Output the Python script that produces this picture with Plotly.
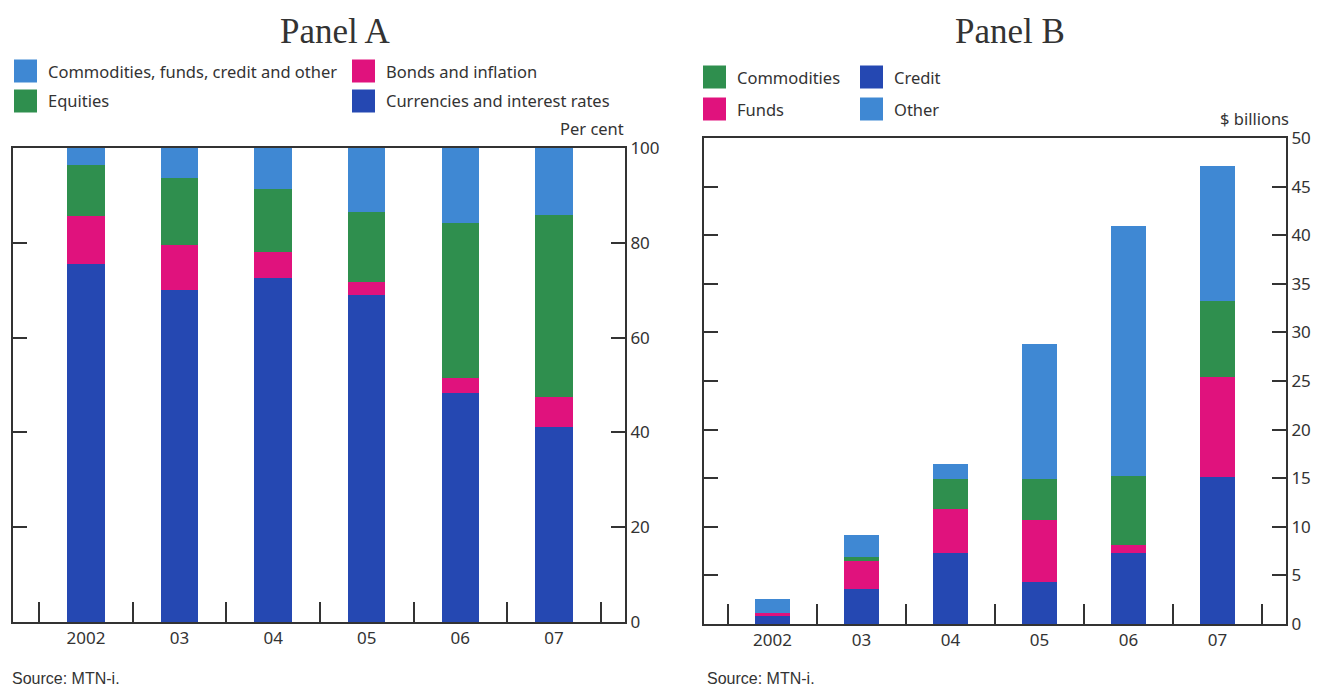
import plotly.graph_objects as go

W, H = 1317, 689

years = ["2002", "03", "04", "05", "06", "07"]

# Panel A (per cent of total)
a_currencies = [75.5, 70.0, 72.6, 69.0, 48.3, 41.1]
a_bonds = [10.1, 9.5, 5.4, 2.7, 3.2, 6.4]
a_equities = [10.8, 14.2, 13.3, 14.8, 32.6, 38.3]
a_other = [3.6, 6.3, 8.7, 13.5, 15.9, 14.2]

# Panel B ($ billions)
b_credit = [0.9, 3.65, 7.3, 4.35, 7.3, 15.1]
b_funds = [0.2, 2.8, 4.5, 6.35, 0.8, 10.3]
b_commodities = [0.0, 0.45, 3.1, 4.2, 7.1, 7.8]
b_other = [1.45, 2.3, 1.6, 13.9, 25.7, 13.9]

a_yticks = [0, 20, 40, 60, 80, 100]
b_yticks = [0, 5, 10, 15, 20, 25, 30, 35, 40, 45, 50]

BLUE = "#2548b2"
LBLUE = "#3f88d3"
GREEN = "#2f8f4e"
MAGENTA = "#e0127d"
INK = "#333333"
SANS = "Noto Sans, Open Sans, sans-serif"


def px_x(p):
    return p / W


def px_y(p):
    return 1 - p / H


fig = go.Figure()

for vals, col, name in [(a_currencies, BLUE, "Currencies and interest rates"),
                        (a_bonds, MAGENTA, "Bonds and inflation"),
                        (a_equities, GREEN, "Equities"),
                        (a_other, LBLUE, "Commodities, funds, credit and other")]:
    fig.add_trace(go.Bar(x=years, y=vals, name=name, marker=dict(color=col, line=dict(width=0)),
                         width=0.4, xaxis="x", yaxis="y", showlegend=False))

for vals, col, name in [(b_credit, BLUE, "Credit"),
                        (b_funds, MAGENTA, "Funds"),
                        (b_commodities, GREEN, "Commodities"),
                        (b_other, LBLUE, "Other")]:
    fig.add_trace(go.Bar(x=years, y=vals, name=name, marker=dict(color=col, line=dict(width=0)),
                         width=0.4, xaxis="x2", yaxis="y2", showlegend=False))

xcommon = dict(type="category", showline=True, linecolor=INK, linewidth=2, mirror=True,
               ticks="inside", tickson="boundaries", ticklen=20, tickwidth=2, tickcolor=INK,
               showgrid=False, zeroline=False, tickfont=dict(family=SANS, size=17, color=INK),
               fixedrange=True)
ycommon = dict(side="right", showline=True, linecolor=INK, linewidth=2, mirror="ticks",
               ticks="inside", ticklen=14, tickwidth=2, tickcolor=INK, showgrid=False,
               zeroline=False, tickfont=dict(family=SANS, size=17, color=INK), fixedrange=True)

fig.update_layout(
    width=W, height=H,
    margin=dict(l=0, r=0, t=0, b=0, autoexpand=False),
    paper_bgcolor="white", plot_bgcolor="white",
    barmode="stack", bargap=0.6,
    showlegend=False,
    xaxis=dict(xcommon, domain=[px_x(13), px_x(625)], range=[-0.78, 5.76], anchor="y"),
    yaxis=dict(ycommon, domain=[px_y(622), px_y(148)], range=[0, 100], tickvals=a_yticks, anchor="x"),
    xaxis2=dict(xcommon, domain=[px_x(704), px_x(1286)], range=[-0.77, 5.77], anchor="y2"),
    yaxis2=dict(ycommon, domain=[px_y(624), px_y(138)], range=[0, 50], tickvals=b_yticks, anchor="x2"),
)

shapes = []
annotations = []


def legend_item(x0, yc, color, text, size=23):
    shapes.append(dict(type="rect", xref="paper", yref="paper",
                       x0=px_x(x0), x1=px_x(x0 + size),
                       y0=px_y(yc + size / 2), y1=px_y(yc - size / 2),
                       fillcolor=color, line=dict(width=0)))
    annotations.append(dict(x=px_x(x0 + size + 9), y=px_y(yc), xref="paper", yref="paper",
                            text=text, showarrow=False, xanchor="left", yanchor="middle",
                            font=dict(family=SANS, size=16.5, color=INK)))


# Panel A legend
legend_item(14, 71, LBLUE, "Commodities, funds, credit and other")
legend_item(352, 71, MAGENTA, "Bonds and inflation")
legend_item(14, 101, GREEN, "Equities")
legend_item(352, 101, BLUE, "Currencies and interest rates")

# Panel B legend
legend_item(703, 77, GREEN, "Commodities")
legend_item(860, 77, BLUE, "Credit")
legend_item(703, 109, MAGENTA, "Funds")
legend_item(860, 109, LBLUE, "Other")


def text(xp, yp, s, anchor="left", size=16.5, family=SANS):
    annotations.append(dict(x=px_x(xp), y=px_y(yp), xref="paper", yref="paper", text=s,
                            showarrow=False, xanchor=anchor, yanchor="middle",
                            font=dict(family=family, size=size, color=INK)))


text(335, 31, "Panel A", "center", 35, "Liberation Serif, Times New Roman, serif")
text(1010, 31, "Panel B", "center", 35, "Liberation Serif, Times New Roman, serif")
text(626, 128, "Per cent", "right")
text(1291, 118, "$ billions", "right")
text(10, 678, "Source: MTN-i.", "left", 16, "Liberation Sans, Arial, sans-serif")
text(705, 678, "Source: MTN-i.", "left", 16, "Liberation Sans, Arial, sans-serif")

fig.update_layout(shapes=shapes, annotations=annotations)

fig.write_html("out.html", config={"displayModeBar": False},
               post_script="document.body.style.margin='0';")
